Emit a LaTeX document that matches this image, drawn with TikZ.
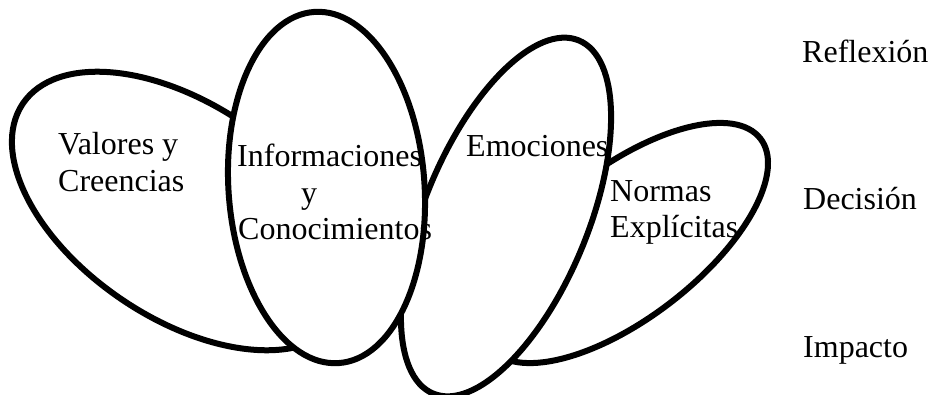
\documentclass[tikz,border=0pt]{standalone}
\usepackage{fontspec}
\setmainfont{Liberation Serif}
\usetikzlibrary{shapes.geometric}
\begin{document}
\begin{tikzpicture}[x=1pt,y=1pt,
  blob/.style={ellipse, draw=black, fill=white, line width=6pt, inner sep=0pt, outer sep=0pt},
  lbl/.style={anchor=base west, inner sep=0pt, font=\fontsize{32}{36.5}\selectfont}]
\useasboundingbox (0,0) rectangle (932,394);
% ellipses, back to front
\node[blob, minimum width=384, minimum height=214, rotate=-34] (valores) at (182,183) {};
\node[blob, minimum width=342, minimum height=150, rotate=37.6] (normas) at (625,151) {};
\node[blob, minimum width=382, minimum height=164, rotate=67.6] (emociones) at (506,177) {};
\node[blob, minimum width=196, minimum height=352, rotate=4] (info) at (326.5,206.5) {};
% texts
\node[lbl] (v1) at (58,239) {Valores y};
\node[lbl] (v2) at (58,202) {Creencias};
\node[lbl] (i1) at (237,227) {Informaciones};
\node[lbl] (i2) at (301,190.5) {y};
\node[lbl] (i3) at (238,154) {Conocimientos};
\node[lbl] (e1) at (466,237) {Emociones};
\node[lbl] (n1) at (610,192) {Normas};
\node[lbl] (n2) at (610,156) {Explícitas};
\node[lbl] (r) at (802,331) {Reflexión};
\node[lbl] (d) at (803,184) {Decisión};
\node[lbl] (im) at (803,37) {Impacto};
\end{tikzpicture}
\end{document}
